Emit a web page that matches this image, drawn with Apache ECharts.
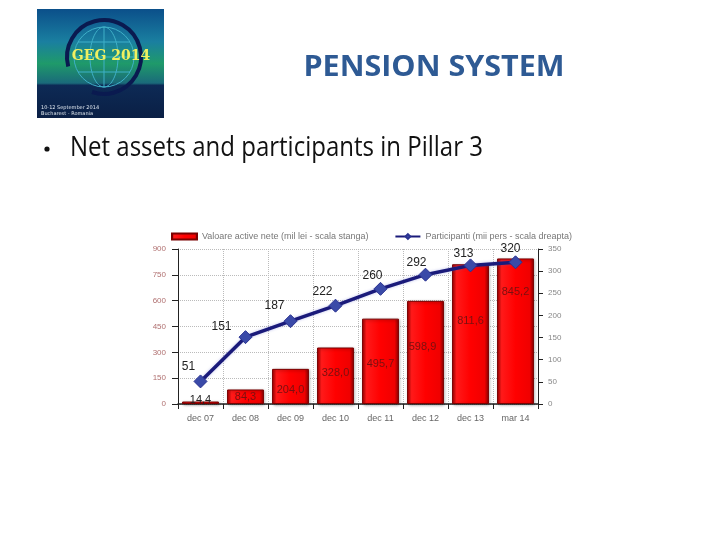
<!DOCTYPE html>
<html><head><meta charset="utf-8">
<script src="https://cdn.jsdelivr.net/npm/echarts@6/dist/echarts.min.js"></script>
<style>html,body{margin:0;padding:0;background:#fff}#c{width:720px;height:540px}</style>
</head><body><div id="c"></div>
<script>
const categories = ['dec 07','dec 08','dec 09','dec 10','dec 11','dec 12','dec 13','mar 14'];
const netAssets = [14.4, 84.3, 204.0, 328.0, 495.7, 598.9, 811.6, 845.2];
const participants = [51, 151, 187, 222, 260, 292, 313, 320];
const leftTicks = {min: 0, max: 900, interval: 150};
const rightTicks = {min: 0, max: 350, interval: 50};
const titleText = 'PENSION SYSTEM';
const bulletText = 'Net assets and participants in Pillar 3';
const legendNames = ['Valoare active nete (mil lei - scala stanga)', 'Participanti (mii pers - scala dreapta)'];

// label tweaks (styling only)
const barLabelOffsets = [[0,-3],[0,0],[0,4],[0,-3],[0,3],[-3,-5],[0,-13],[0,-39]];
const lineLabelOffsets = [[-12,3],[-24,8],[-16,3],[-13,4],[-8,5],[-9,6],[-7,6],[-5,4]];

const chart = echarts.init(document.getElementById('c'), null, {renderer:'canvas'});
const fmtComma = v => v.toFixed(1).replace('.', ',');

const barGrad = new echarts.graphic.LinearGradient(0,0,1,0,[
  {offset:0,color:'#a80000'},{offset:0.12,color:'#ff1a1a'},{offset:0.5,color:'#ff0000'},{offset:0.88,color:'#f00000'},{offset:1,color:'#8a0000'}
]);

chart.setOption({
  animation:false,
  graphic:[
    {type:'rect', shape:{x:37,y:9,width:127,height:109}, style:{fill:new echarts.graphic.LinearGradient(0,0,0,1,[
      {offset:0,color:'#0b4f8a'},{offset:0.3,color:'#1a7fa0'},{offset:0.5,color:'#1f9a6a'},{offset:0.68,color:'#1a6a7a'},{offset:0.7,color:'#0d2a55'},{offset:1,color:'#0a1f45'}])}},
    {type:'circle', shape:{cx:104,cy:57,r:30}, style:{fill:'none',stroke:'#3fb0c8',lineWidth:1}},
    {type:'ellipse', shape:{cx:104,cy:57,rx:14,ry:30}, style:{fill:'none',stroke:'#3fb0c8',lineWidth:1}},
    {type:'line', shape:{x1:74,y1:57,x2:134,y2:57}, style:{stroke:'#3fb0c8',lineWidth:1}},
    {type:'line', shape:{x1:78,y1:42,x2:130,y2:42}, style:{stroke:'#3fb0c8',lineWidth:1}},
    {type:'line', shape:{x1:78,y1:72,x2:130,y2:72}, style:{stroke:'#3fb0c8',lineWidth:1}},
    {type:'line', shape:{x1:104,y1:27,x2:104,y2:87}, style:{stroke:'#3fb0c8',lineWidth:1}},
    {type:'arc', shape:{cx:104,cy:57,r:37,startAngle:-3.4,endAngle:1.9}, style:{fill:'none',stroke:'#0a1a50',lineWidth:4}},
    {type:'text', style:{x:111,y:56,text:'GEG 2014',fill:'#f0f060',font:'bold 14px "DejaVu Serif"',align:'center',verticalAlign:'middle'}},
    {type:'text', style:{x:41,y:105,text:'10-12 September 2014\nBucharest - Romania',fill:'#e0e8f0',font:'5px "DejaVu Sans"',lineHeight:6}},
    {type:'text', x:434, y:68, scaleX:1.09, style:{x:0,y:0,text:titleText,fill:'#2e5a94',font:'bold 28px "Open Sans"',align:'center',verticalAlign:'middle'}},
    {type:'circle', shape:{cx:47,cy:149,r:2.6}, style:{fill:'#111'}},
    {type:'text', x:70, y:148, scaleY:1.12, style:{x:0,y:0,text:bulletText,fill:'#111',font:'24px "Open Sans"',verticalAlign:'middle'}}
  ],
  legend:{
    top:227, left:166, itemGap:26, itemWidth:25, itemHeight:6,
    textStyle:{color:'#777',fontSize:9,fontFamily:'Liberation Sans'},
    data:[{name:legendNames[0], icon:'rect'},{name:legendNames[1]}]
  },
  grid:{left:178, right:182, top:249, bottom:136},
  xAxis:{type:'category', data:categories,
    axisLine:{lineStyle:{color:'#222',width:1.5}},
    axisTick:{show:true,lineStyle:{color:'#222'},length:5},
    axisLabel:{color:'#666',fontSize:9,margin:10,fontFamily:'Liberation Sans'},
    splitLine:{show:true,lineStyle:{color:'#bbb',type:'dotted'}}
  },
  yAxis:[
    {type:'value', min:leftTicks.min, max:leftTicks.max, interval:leftTicks.interval,
      axisLine:{show:true,lineStyle:{color:'#222'}}, axisTick:{show:true,length:6,lineStyle:{color:'#222'}},
      axisLabel:{color:'#b07070',fontSize:8,margin:12,fontFamily:'Liberation Sans'},
      splitLine:{show:true,lineStyle:{color:'#bbb',type:'dotted'}}},
    {type:'value', min:rightTicks.min, max:rightTicks.max, interval:rightTicks.interval,
      axisLine:{show:true,lineStyle:{color:'#222'}}, axisTick:{show:true,length:5,lineStyle:{color:'#222'}},
      axisLabel:{color:'#888',fontSize:8,margin:10,fontFamily:'Liberation Sans'},
      splitLine:{show:false}}
  ],
  series:[
    {name:legendNames[0], type:'bar', yAxisIndex:0, barWidth:'82%',
      itemStyle:{color:barGrad, borderColor:'#7a0000', borderWidth:1, shadowColor:'rgba(0,0,0,0.35)', shadowBlur:3, shadowOffsetX:1, shadowOffsetY:1},
      label:{show:true, position:'inside', color:'#7a1010', fontSize:11, fontFamily:'Liberation Sans',
        formatter:p=>fmtComma(p.value)},
      data:netAssets.map((v,i)=>({value:v,label:{offset:barLabelOffsets[i], color: i===0?'#222':'#7a1010'}}))
    },
    {name:legendNames[1], type:'line', yAxisIndex:1, z:5,
      lineStyle:{color:'#1a1a7a', width:3.5, shadowColor:'rgba(80,90,200,0.4)', shadowBlur:3},
      itemStyle:{color:'#3a4aa8', borderColor:'#2a3290', borderWidth:1},
      symbol:'diamond', symbolSize:13,
      label:{show:true, position:'top', color:'#222', fontSize:12, fontFamily:'Liberation Sans'},
      data:participants.map((v,i)=>({value:v,label:{offset:lineLabelOffsets[i]}}))
    }
  ]
});
</script></body></html>
